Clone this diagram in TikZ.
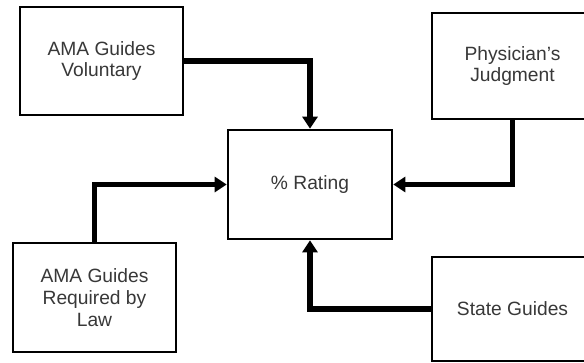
\documentclass[tikz,border=0pt]{standalone}
\usepackage{fontspec}
\setmainfont{Liberation Sans}
\usetikzlibrary{arrows.meta}
\begin{document}
\begin{tikzpicture}[x=1bp,y=-1bp,
  box/.style={draw=black, line width=2.6bp, fill=white, align=center,
    text=black!78, font=\fontsize{19.3}{22}\selectfont, inner sep=0pt},
  conn/.style={line width=5.5bp, -{Triangle[width=15bp,length=12bp]}}]
\useasboundingbox (0,0) rectangle (584,362);
\clip (0,0) rectangle (584,362);
\fill[white] (0,0) rectangle (584,362);
\node[box, minimum width=163bp, minimum height=108bp] (av) at (101.5,61) {AMA Guides\\Voluntary};
\node[box, minimum width=164bp, minimum height=109bp] (rating) at (310,184.5) {\% Rating};
\node[box, minimum width=163bp, minimum height=109bp] (arl) at (94.5,297.5) {AMA Guides\\Required by\\Law};
\node[box, minimum width=161bp, minimum height=106bp] (pj) at (512.5,66) {Physician's\\Judgment};
\node[box, minimum width=161bp, minimum height=104bp] (sg) at (512.5,309) {State Guides};
\draw[conn] (av.east) -| (rating.north);
\draw[conn] (arl.north) |- (rating.west);
\draw[conn] (pj.south) |- (rating.east);
\draw[conn] (sg.west) -| (rating.south);
\end{tikzpicture}
\end{document}
